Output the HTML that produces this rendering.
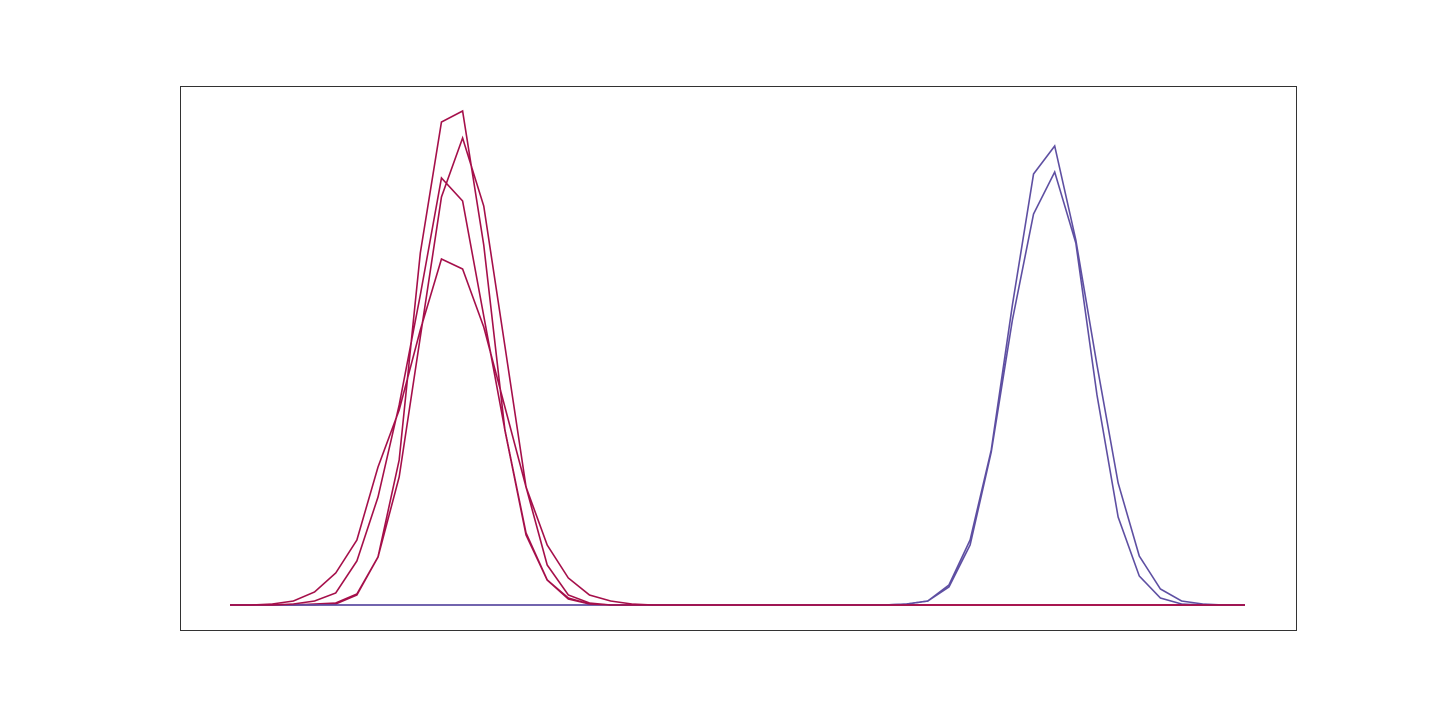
<!DOCTYPE html>
<html><head><meta charset="utf-8"><style>
body{margin:0;background:#fff;}
svg{display:block;}
</style></head><body>
<svg id="chart" width="1440" height="720" xmlns="http://www.w3.org/2000/svg">
<rect x="180.5" y="86.5" width="1116" height="544" fill="none" stroke="#000" stroke-width="0.8"/>
<g id="lines"></g>
</svg>
<script>
const nPoints = 49;
const redA = {3:0,4:1,5:2,6:11,7:48,8:145,9:352,10:483,11:494,12:360,13:175,14:70,15:25,16:7,17:1};
const redB = {4:0,5:1,6:10,7:48,8:128,9:268,10:408,11:467,12:399,13:259,14:118,15:40,16:10,17:2};
const redC = {2:0,3:1,4:4,5:12,6:44,7:108,8:200,9:310,10:427,11:404,12:289,13:175,14:72,15:25,16:6,17:1};
const redD = {1:0,2:1,3:4,4:13,5:32,6:65,7:138,8:195,9:275,10:346,11:336,12:278,13:198,14:118,15:60,16:27,17:10,18:4,19:1};
const blueE = {31:0,32:1,33:4,34:20,35:65,36:155,37:300,38:431,39:459,40:365,41:240,42:122,43:49,44:16,45:4,46:1};
const blueF = {31:0,32:1,33:4,34:18,35:60,36:153,37:285,38:391,39:433,40:362,41:210,42:88,43:29,44:7,45:1};
const seriesList = [redA, redB, redC, redD, blueE, blueF];
const seriesNames = ['red-series-a','red-series-b','red-series-c','red-series-d','blue-series-e','blue-series-f'];
const seriesColors = ['#a50f4a','#a50f4a','#a50f4a','#a50f4a','#5e4fa2','#5e4fa2'];

const xScale = i => 230 + i * (1245 - 230) / (nPoints - 1);
const yScale = v => 605 - v;
const g = document.getElementById('lines');
const order = [0,1,4,5,2,3];
order.forEach(k => {
  const s = seriesList[k];
  let d = '';
  for (let i = 0; i < nPoints; i++) {
    const v = s[i] || 0;
    d += (i ? 'L' : 'M') + xScale(i).toFixed(2) + ',' + yScale(v).toFixed(2);
  }
  const p = document.createElementNS('http://www.w3.org/2000/svg', 'path');
  p.setAttribute('d', d);
  p.setAttribute('fill', 'none');
  p.setAttribute('stroke', seriesColors[k]);
  p.setAttribute('stroke-width', '1.6');
  p.setAttribute('stroke-linejoin', 'miter');
  
  
  g.appendChild(p);
});
</script>
</body></html>
